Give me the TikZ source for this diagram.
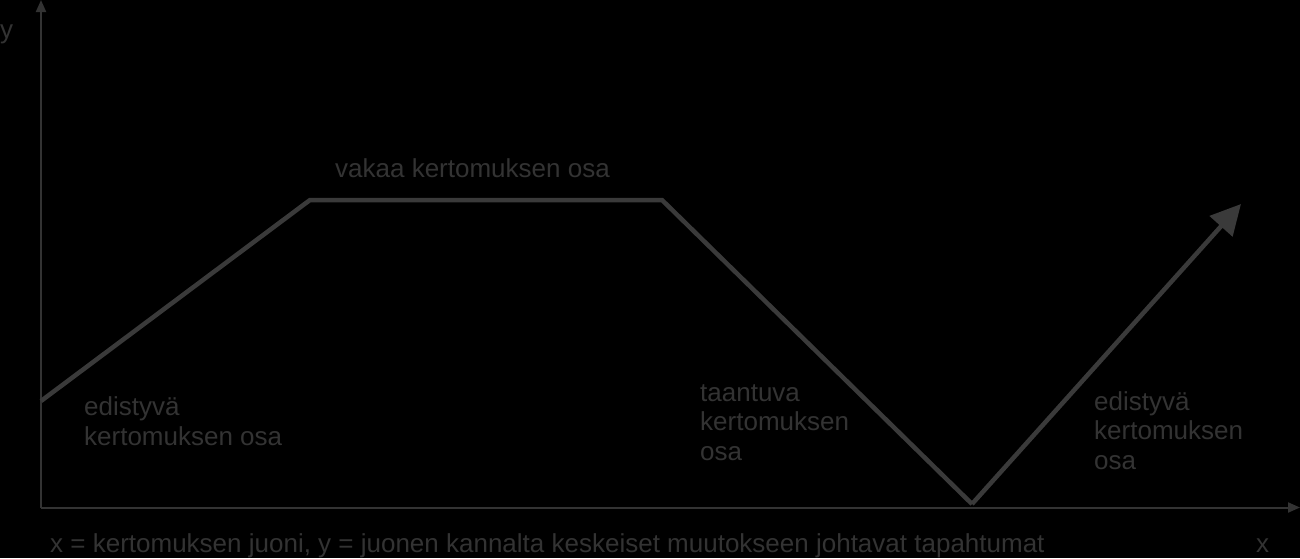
\documentclass[tikz,border=0pt]{standalone}
\usepackage{fontspec}
\setmainfont{Liberation Sans}
\usetikzlibrary{arrows.meta}
\definecolor{txtgray}{HTML}{333333}
\definecolor{linegray}{HTML}{3A3A3A}
\definecolor{axisgray}{HTML}{333333}
\begin{document}
\begin{tikzpicture}[x=1pt,y=-1pt,
  lbl/.style={text=txtgray,font=\fontsize{26}{29.3}\selectfont,inner sep=0pt,anchor=base west,align=left},
  axisline/.style={draw=axisgray,line width=2pt,-{Triangle[length=12pt,width=10pt]}},
  story/.style={draw=linegray,line width=4.5pt,line join=miter}]
\fill[black] (0,0) rectangle (1300,558);
\useasboundingbox (0,0) rectangle (1300,558);
% axes
\coordinate (o) at (41,507.5);
\coordinate (ytop) at (41,0);
\coordinate (xend) at (1300,507.5);
\draw[axisline] (o) -- (ytop);
\draw[axisline] (o) -- (xend);
% story line
\coordinate (p0) at (41,401);
\coordinate (p1) at (310,200);
\coordinate (p2) at (662,200);
\coordinate (p3) at (972,504);
\coordinate (p4) at (1241,204);
\draw[story] (p0) -- (p1) -- (p2) -- (p3);
\draw[story,-{Triangle[length=30pt,width=30pt]}] (p3) -- (p4);
% labels (base = baseline of last line)
\node[lbl] (ylab) at (0,38) {y};
\node[lbl] (xlab) at (1256,552) {x};
\node[lbl] (vakaa) at (335,177) {vakaa kertomuksen osa};
\node[lbl] (edist1) at (84,445) {edistyvä\\kertomuksen osa};
\node[lbl] (taant) at (700,460) {taantuva\\kertomuksen\\osa};
\node[lbl] (edist2) at (1094,469) {edistyvä\\kertomuksen\\osa};
\node[lbl] (caption) at (50,552) {x = kertomuksen juoni, y = juonen kannalta keskeiset muutokseen johtavat tapahtumat};
\end{tikzpicture}
\end{document}
